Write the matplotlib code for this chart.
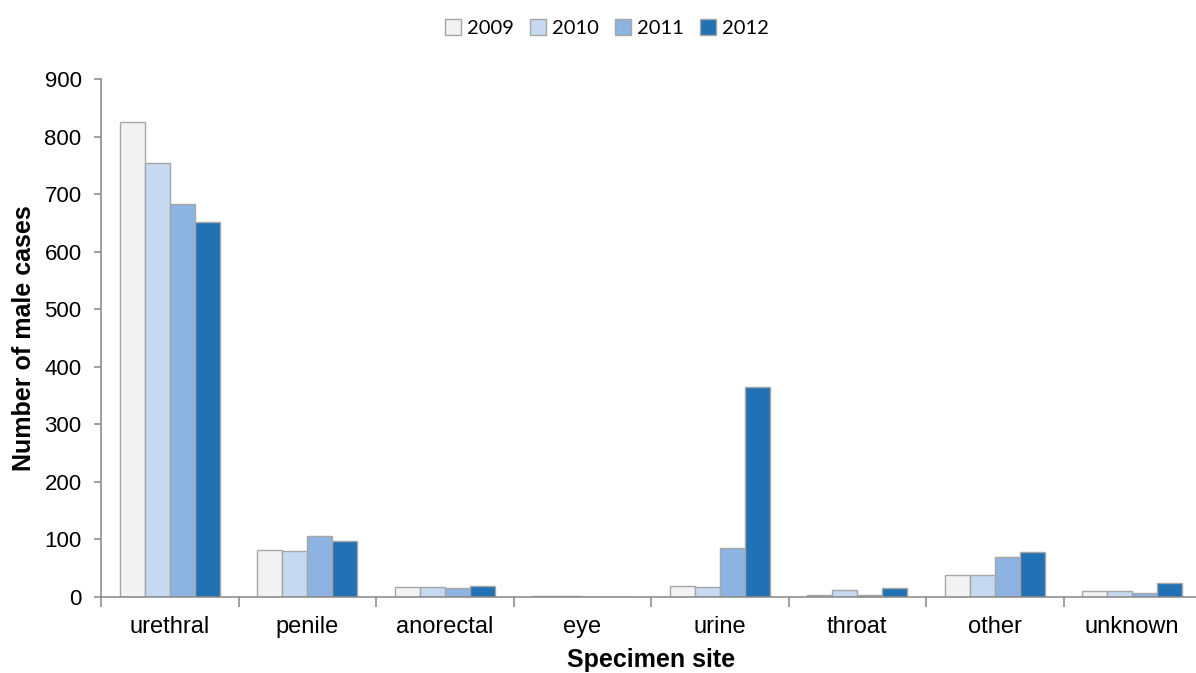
import matplotlib
matplotlib.use("Agg")
import matplotlib.pyplot as plt
import numpy as np
from matplotlib.patches import Patch

sites = ["urethral", "penile", "anorectal", "eye", "urine", "throat", "other", "unknown"]
years = ["2009", "2010", "2011", "2012"]
cases_2009 = [826, 81, 17, 1, 19, 3, 38, 10]
cases_2010 = [754, 80, 17, 2, 17, 12, 38, 11]
cases_2011 = [683, 106, 16, 0.5, 85, 3, 70, 7]
cases_2012 = [652, 97, 19, 0, 364, 16, 79, 24]
yticks = [0, 100, 200, 300, 400, 500, 600, 700, 800, 900]

colors = ["#f2f2f2", "#c6d9f1", "#8db3e2", "#2171b5"]
edge = "#a6a6a6"
axis_grey = "#868686"

plt.rcParams["font.family"] = ["Liberation Sans", "DejaVu Sans"]

W, H = 1196, 673
fig = plt.figure(figsize=(W / 100, H / 100), dpi=100)
ax = fig.add_axes([101 / W, (H - 597) / H, (1201 - 101) / W, (597 - 79) / H])

x = np.arange(len(sites))
bw = 0.182
series = [cases_2009, cases_2010, cases_2011, cases_2012]
for i, vals in enumerate(series):
    ax.bar(x + (i - 1.5) * bw, vals, width=bw, color=colors[i],
           edgecolor=edge, linewidth=1.0, zorder=2)

ax.set_xlim(-0.5, len(sites) - 0.5)
ax.set_ylim(0, 900)
ax.set_yticks(yticks)
ax.set_xticks(x)
ax.set_xticklabels(sites)
ax.set_xticks(np.arange(len(sites) + 1) - 0.5, minor=True)

for s in ["top", "right"]:
    ax.spines[s].set_visible(False)
for s in ["left", "bottom"]:
    ax.spines[s].set_color(axis_grey)
    ax.spines[s].set_linewidth(1.1)

ax.tick_params(axis="y", length=5, width=1.1, color=axis_grey, labelsize=16, pad=9)
ax.tick_params(axis="x", which="major", length=0, labelsize=17, pad=14)
ax.tick_params(axis="x", which="minor", length=7, width=1.1, color=axis_grey)

ax.set_ylabel("Number of male cases", fontsize=18, fontweight="bold", labelpad=6)
ax.set_xlabel("Specimen site", fontsize=18, fontweight="bold", labelpad=7)

handles = [Patch(facecolor=colors[i], edgecolor=edge, linewidth=1.0, label=years[i])
           for i in range(4)]
fig.legend(handles=handles, loc="center", bbox_to_anchor=(607 / W, 1 - 28 / H),
           ncol=4, frameon=False, handlelength=0.8, handleheight=0.8,
           handletextpad=0.3, columnspacing=0.8,
           prop={"family": ["Lato", "DejaVu Sans"], "size": 14.5})

fig.savefig("out.png", dpi=100)
